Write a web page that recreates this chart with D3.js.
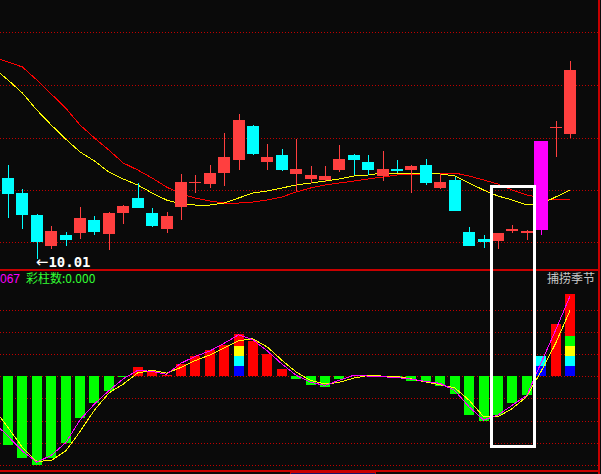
<!DOCTYPE html>
<html><head><meta charset="utf-8">
<script src="https://cdn.jsdelivr.net/npm/d3@7"></script>
<style>html,body{margin:0;padding:0;background:#0a0a0a;overflow:hidden}svg{display:block}</style>
</head><body><svg id="c" width="601" height="474"></svg>
<script>
// ---------- data ----------
const days = d3.range(1, 41);           // bar index 1..40
const maDays = d3.range(0, 41);         // MA series include one earlier bar (index 0)
const open  = [10.82,10.67,10.45,10.14,10.25,10.27,10.40,10.26,10.47,10.62,10.47,10.31,10.53,10.77,10.76,10.87,11.00,11.34,10.98,11.05,10.86,10.81,10.80,10.90,11.05,10.98,10.84,10.91,10.90,10.95,10.72,10.80,10.28,10.21,10.19,10.29,10.27,10.30,11.32,11.26];
const close = [10.66,10.45,10.18,10.29,10.20,10.42,10.28,10.47,10.54,10.52,10.34,10.44,10.78,10.78,10.87,11.03,11.40,11.06,11.03,10.90,10.91,10.85,10.84,11.01,11.00,10.90,10.91,10.89,10.94,10.77,10.78,10.49,10.14,10.18,10.27,10.31,10.29,11.19,11.33,11.90];
const high  = [10.95,10.71,10.46,10.34,10.28,10.53,10.44,10.48,10.55,10.77,10.52,10.48,10.86,10.85,10.95,11.27,11.46,11.35,11.16,11.11,11.21,10.94,10.94,11.15,11.06,11.05,11.09,11.00,10.95,11.01,10.86,10.83,10.33,10.25,10.27,10.35,10.30,11.19,11.39,11.99];
const low   = [10.42,10.31,10.01,10.11,10.14,10.21,10.25,10.10,10.36,10.52,10.33,10.27,10.40,10.67,10.72,10.74,10.90,11.05,10.90,10.89,10.69,10.77,10.78,10.88,10.85,10.85,10.79,10.87,10.67,10.75,10.71,10.49,10.14,10.12,10.11,10.27,10.20,10.25,11.03,11.22];
const highlightDays = [38];
const maFast = [11.92,11.80,11.67,11.50,11.35,11.21,11.08,10.99,10.88,10.81,10.75,10.67,10.60,10.56,10.55,10.55,10.57,10.62,10.67,10.69,10.72,10.75,10.77,10.79,10.81,10.84,10.85,10.87,10.87,10.87,10.87,10.86,10.84,10.77,10.70,10.64,10.60,10.55,10.56,10.63,10.70];
const maSlow = [12.03,11.98,11.93,11.80,11.66,11.52,11.35,11.22,11.10,10.97,10.90,10.82,10.73,10.66,10.62,10.59,10.57,10.57,10.58,10.60,10.63,10.68,10.72,10.75,10.77,10.79,10.81,10.83,10.85,10.86,10.86,10.87,10.87,10.84,10.80,10.76,10.70,10.65,10.62,10.60,10.61];
const priceGrid = [10.175, 10.70, 11.225, 11.75, 12.275];
const lowLabel = "10.01";

const histo = [-0.31,-0.37,-0.40,-0.37,-0.30,-0.19,-0.12,-0.065,-0.004,0.042,0.024,0.006,0.055,0.091,0.118,0.141,0.189,0.159,0.099,0.033,-0.011,-0.038,-0.047,-0.011,0.003,0.002,-0.002,-0.009,-0.020,-0.026,-0.044,-0.081,-0.174,-0.201,-0.174,-0.119,-0.084,0.091,0.236,0.371];
const colorSegs = {17: 3, 38: 2, 40: 4};
const segSize = 0.045;
const segColors = ["#0000ff", "#00ffff", "#ffff00", "#00ff00"];
const lineMain = [-0.206,-0.270,-0.337,-0.387,-0.356,-0.300,-0.196,-0.125,-0.065,-0.011,0.027,0.022,0.009,0.059,0.090,0.114,0.149,0.187,0.164,0.114,0.056,0.004,-0.027,-0.041,-0.018,0.005,0.001,-0.002,-0.006,-0.013,-0.023,-0.032,-0.064,-0.138,-0.197,-0.175,-0.130,-0.087,0.062,0.208,0.361];
const lineSignal = [-0.143,-0.231,-0.320,-0.384,-0.379,-0.337,-0.249,-0.152,-0.075,-0.035,0.015,0.027,0.014,0.040,0.071,0.096,0.128,0.160,0.169,0.132,0.073,0.019,-0.019,-0.035,-0.027,-0.008,0.004,0.001,-0.001,-0.012,-0.026,-0.038,-0.052,-0.108,-0.182,-0.182,-0.145,-0.091,0.023,0.148,0.297];
const indGrid = [0.3, 0.2, 0.1, 0, -0.1, -0.2, -0.3, -0.4];
const indLabelLeft = "067";
const indLabel = "彩柱数:0.000";
const indTitle = "捕捞季节";
const boxFrom = 35, boxTo = 37;   // highlighted bars (white frame)

// ---------- scales ----------
const W = 601, H = 474, RIGHT = 598;
const x = d3.scaleLinear().domain([1, 40]).range([8, 570]);
const y = d3.scaleLinear().domain([12.60, 9.90]).range([0, 270]);
const yi = d3.scaleLinear().domain([0, 0.1]).range([376.3, 354.11]);

const svg = d3.select("#c");
svg.append("rect").attr("width", W).attr("height", H).attr("fill", "#0a0a0a");
const defs = svg.append("defs");
defs.append("clipPath").attr("id", "topClip").append("rect").attr("x", 0).attr("y", 0).attr("width", RIGHT).attr("height", 269);
defs.append("clipPath").attr("id", "botClip").append("rect").attr("x", 0).attr("y", 271).attr("width", RIGHT).attr("height", 199);

const gridColor = "#c00000";
// grids
svg.append("g").selectAll("line").data(priceGrid).join("line")
  .attr("x1", 0).attr("x2", RIGHT)
  .attr("y1", d => Math.round(y(d)) + 0.5).attr("y2", d => Math.round(y(d)) + 0.5)
  .attr("stroke", gridColor).attr("stroke-width", 1).attr("stroke-dasharray", "1,2")
  .attr("shape-rendering", "crispEdges");
svg.append("g").selectAll("line").data(indGrid).join("line")
  .attr("x1", 0).attr("x2", RIGHT)
  .attr("y1", d => Math.round(yi(d)) + 0.5).attr("y2", d => Math.round(yi(d)) + 0.5)
  .attr("stroke", gridColor).attr("stroke-width", 1).attr("stroke-dasharray", "1,2")
  .attr("shape-rendering", "crispEdges");

// ---------- top panel ----------
const topG = svg.append("g").attr("clip-path", "url(#topClip)");
const maLine = arr => d3.line().x((d, i) => x(maDays[i])).y(d => y(d))(arr);
topG.append("path").attr("d", maLine(maSlow)).attr("fill", "none").attr("stroke", "#ff0000").attr("stroke-width", 1).attr("shape-rendering", "crispEdges");
topG.append("path").attr("d", maLine(maFast)).attr("fill", "none").attr("stroke", "#ffff00").attr("stroke-width", 1).attr("shape-rendering", "crispEdges");

const candleColor = i => highlightDays.includes(days[i]) ? "#ff00ff" : (close[i] >= open[i] ? "#ff3f3f" : "#00ffff");
const cg = topG.append("g").attr("shape-rendering", "crispEdges");
days.forEach((d, i) => {
  const cx = Math.round(x(d));
  const col = candleColor(i);
  const hy = y(high[i]), ly = y(low[i]);
  cg.append("rect").attr("x", cx).attr("y", Math.round(hy)).attr("width", 1)
    .attr("height", Math.max(1, Math.round(ly) - Math.round(hy))).attr("fill", col);
  const bt = Math.round(y(Math.max(open[i], close[i])));
  const bb = Math.round(y(Math.min(open[i], close[i])));
  const bw = highlightDays.includes(d) ? 14 : 12;
  cg.append("rect").attr("x", cx - bw / 2).attr("y", bt).attr("width", bw)
    .attr("height", Math.max(1, bb - bt)).attr("fill", col);
});

// low marker
const li = low.indexOf(d3.min(low));
const lowText = svg.append("text").attr("x", x(days[li]) - 1).attr("y", y(low[li]) + 7.5)
  .attr("fill", "#ffffff").attr("font-family", "DejaVu Sans Mono, monospace").attr("font-size", 14);
lowText.append("tspan").attr("font-family", "DejaVu Sans, sans-serif").attr("font-size", 15).text("←");
lowText.append("tspan").attr("dx", 0).attr("font-weight", "bold").text(lowLabel);

// ---------- bottom panel ----------
const bot = svg.append("g").attr("clip-path", "url(#botClip)").attr("shape-rendering", "crispEdges");
days.forEach((d, i) => {
  const cx = Math.round(x(d));
  const v = histo[i];
  const y0 = Math.round(yi(0)), yv = Math.round(yi(v));
  if (v >= 0) {
    bot.append("rect").attr("x", cx - 5).attr("y", yv).attr("width", 10).attr("height", y0 - yv).attr("fill", "#ff0000");
  } else {
    bot.append("rect").attr("x", cx - 5).attr("y", y0).attr("width", 10).attr("height", yv - y0).attr("fill", "#00ff00");
  }
  const n = colorSegs[d] || 0;
  for (let k = 0; k < n; k++) {
    const a = Math.round(yi((k + 1) * segSize)), b = Math.round(yi(k * segSize));
    bot.append("rect").attr("x", cx - 5).attr("y", a).attr("width", 10).attr("height", b - a).attr("fill", segColors[k]);
  }
});
const indLine = arr => d3.line().x((d, i) => x(maDays[i])).y(d => yi(d))(arr);
bot.append("path").attr("d", indLine(lineSignal)).attr("fill", "none").attr("stroke", "#ffff00").attr("stroke-width", 1);
bot.append("path").attr("d", indLine(lineMain)).attr("fill", "none").attr("stroke", "#ff00ff").attr("stroke-width", 1);

// labels
svg.append("text").attr("x", 0).attr("y", 283).attr("fill", "#ff00ff")
  .attr("font-family", "Liberation Sans Narrow, Liberation Sans, sans-serif").attr("font-size", 12).text(indLabelLeft);
svg.append("text").attr("x", 26).attr("y", 283).attr("fill", "#33ff33")
  .attr("font-family", "Noto Sans CJK SC, sans-serif").attr("font-size", 12).text(indLabel);
svg.append("text").attr("x", 547).attr("y", 283).attr("fill", "#c8c8c8")
  .attr("font-family", "Noto Sans CJK SC, sans-serif").attr("font-size", 12).text(indTitle);

// ---------- frame lines ----------
const fr = svg.append("g").attr("shape-rendering", "crispEdges");
fr.append("rect").attr("x", 0).attr("y", 269).attr("width", RIGHT).attr("height", 2).attr("fill", "#c80000");
fr.append("rect").attr("x", 0).attr("y", 470).attr("width", RIGHT).attr("height", 2).attr("fill", "#c80000");
fr.append("rect").attr("x", RIGHT).attr("y", 0).attr("width", 2).attr("height", H).attr("fill", "#c80000");
fr.append("rect").attr("x", 290.5).attr("y", 472.5).attr("width", 85).attr("height", 2).attr("fill", "#14146e").attr("stroke", "#c80000").attr("stroke-width", 1);

// highlight frame around selected bars
const bx0 = x(boxFrom) - 8, bx1 = x(boxTo) + 9;
svg.append("rect").attr("x", Math.round(bx0) + 1.5).attr("y", 186.5)
  .attr("width", Math.round(bx1) - Math.round(bx0) - 3).attr("height", 259.5)
  .attr("fill", "none").attr("stroke", "#ffffff").attr("stroke-width", 3).attr("shape-rendering", "crispEdges");
</script></body></html>
